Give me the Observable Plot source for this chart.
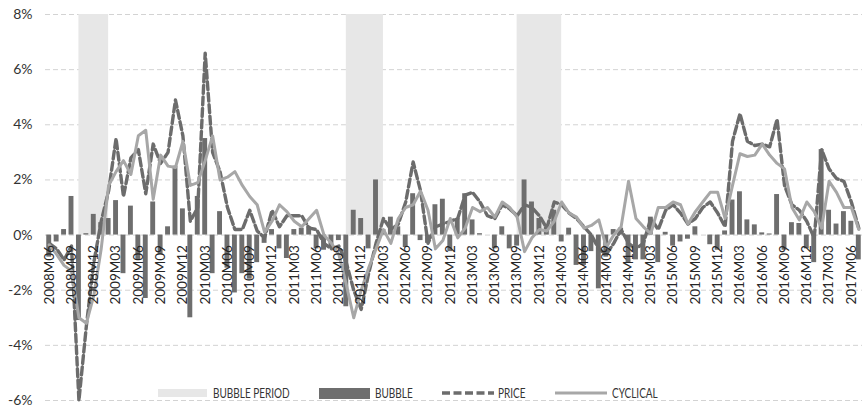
<!DOCTYPE html>
<html>
<head>
<meta charset="utf-8">
<script src="https://cdn.jsdelivr.net/npm/d3@7"></script>
<script src="https://cdn.jsdelivr.net/npm/@observablehq/plot@0.6"></script>
<style>
  html, body { margin: 0; padding: 0; background: #fff; }
  #wrap { position: relative; width: 863px; height: 410px; font-family: Lato, "Open Sans", sans-serif; }
  #legend { position: absolute; left: 0; top: 0; width: 863px; height: 410px; pointer-events: none; }
  .sw { position: absolute; }
  .lt { position: absolute; font-size: 12.5px; color: #333; line-height: 13px; top: 386.5px; white-space: nowrap; transform: scaleX(0.8); transform-origin: 0 50%; }
</style>
</head>
<body>
<div id="wrap"></div>
<script>
const months = [
  "2008M06","2008M07","2008M08","2008M09","2008M10","2008M11","2008M12",
  "2009M01","2009M02","2009M03","2009M04","2009M05","2009M06","2009M07","2009M08","2009M09","2009M10","2009M11","2009M12",
  "2010M01","2010M02","2010M03","2010M04","2010M05","2010M06","2010M07","2010M08","2010M09","2010M10","2010M11","2010M12",
  "2011M01","2011M02","2011M03","2011M04","2011M05","2011M06","2011M07","2011M08","2011M09","2011M10","2011M11","2011M12",
  "2012M01","2012M02","2012M03","2012M04","2012M05","2012M06","2012M07","2012M08","2012M09","2012M10","2012M11","2012M12",
  "2013M01","2013M02","2013M03","2013M04","2013M05","2013M06","2013M07","2013M08","2013M09","2013M10","2013M11","2013M12",
  "2014M01","2014M02","2014M03","2014M04","2014M05","2014M06","2014M07","2014M08","2014M09","2014M10","2014M11","2014M12",
  "2015M01","2015M02","2015M03","2015M04","2015M05","2015M06","2015M07","2015M08","2015M09","2015M10","2015M11","2015M12",
  "2016M01","2016M02","2016M03","2016M04","2016M05","2016M06","2016M07","2016M08","2016M09","2016M10","2016M11","2016M12",
  "2017M01","2017M02","2017M03","2017M04","2017M05","2017M06","2017M07"
];

const bubble = [
  -0.8,-0.25,0.2,1.4,-3.1,0.05,0.75,0.45,0.6,1.25,
  -1.4,1.05,-0.9,-2.3,1.2,-0.7,0.3,2.5,0.95,-3.0,
  1.4,3.5,-1.4,0.85,-1.2,-2.1,-1.4,-1.6,-1.0,-0.3,
  0.2,-0.5,-0.85,0.2,0.25,0.3,-0.5,-0.55,-0.5,-0.2,
  -2.6,0.9,0.6,-0.5,2.0,0.2,0.65,0.3,-0.45,1.5,
  -0.2,-0.3,1.1,1.3,-0.6,0.6,1.5,0.55,0.05,0.0,
  -0.5,0.3,-0.5,-0.4,2.0,1.2,0.6,0.3,0.9,-0.25,
  0.25,-1.1,-1.1,-0.6,-1.95,-0.8,0.2,0.25,-1.0,-0.9,
  -0.9,0.65,-1.0,0.1,-0.4,-0.25,-0.15,0.3,0.0,-0.35,
  -0.55,0.15,1.27,1.57,0.55,0.37,0.08,0.04,1.47,-0.55,
  0.45,0.42,-0.5,-1.0,3.1,0.9,0.4,0.85,0.5,-0.9
];

const price = [
  -0.3,-0.5,-0.9,-0.4,-6.0,-3.3,-1.0,0.5,1.6,3.5,
  1.4,2.8,3.1,1.5,3.3,2.6,3.0,4.9,3.6,0.5,
  1.0,6.6,3.0,2.3,1.0,0.2,0.2,0.9,0.15,-0.1,
  0.9,0.3,0.7,0.7,0.7,0.25,0.2,-0.3,-0.5,-0.4,
  -1.0,-2.0,-2.7,-1.4,-0.3,0.6,0.2,0.4,1.2,2.65,
  1.6,-0.3,0.3,0.4,0.5,0.6,1.45,1.55,1.2,0.7,
  0.6,1.1,0.95,0.7,1.1,1.0,0.7,0.25,1.2,1.1,
  0.8,0.6,0.3,0.0,-0.5,-0.7,-0.3,0.2,-0.3,-0.5,
  -0.3,0.6,0.2,0.9,1.1,0.8,0.4,0.6,1.0,1.2,
  0.8,0.3,3.4,4.4,3.4,3.25,3.3,3.2,4.2,1.8,
  1.1,0.9,0.5,-0.1,3.1,2.4,2.05,1.95,1.2,0.25
];

const cyclical = [
  -0.35,-0.7,-1.1,-1.3,-3.0,-3.2,-2.2,-0.5,1.8,2.3,
  2.7,2.2,3.6,3.8,1.3,2.9,2.5,2.45,3.4,1.8,
  1.9,2.7,3.6,2.0,2.1,2.3,1.8,1.4,1.1,0.1,
  0.5,1.1,0.85,0.5,0.3,0.6,0.9,0.0,-0.3,-0.7,
  -1.8,-3.0,-2.0,-1.2,-0.5,0.2,-0.3,0.6,1.0,1.1,
  1.6,0.9,-0.5,-0.2,0.6,-0.1,0.25,1.0,0.85,1.0,
  0.65,1.2,1.0,0.65,-0.6,-0.1,0.2,0.15,0.5,1.2,
  0.8,0.65,0.25,0.35,0.55,-0.45,0.0,0.3,1.95,0.6,
  0.3,0.05,1.0,1.0,1.2,1.1,0.4,0.85,1.2,1.55,
  1.55,0.6,1.8,2.95,2.85,2.9,3.3,2.9,2.6,2.4,
  1.0,0.55,1.2,0.85,0.25,1.95,1.55,1.0,1.0,0.2
];

// bubble periods (first and last month of each shaded span)
const periodStart = ["2008M10","2011M10","2013M09"];
const periodEnd   = ["2009M02","2012M03","2014M03"];

const tickLabels = [
  "2008M06","2008M09","2008M12","2009M03","2009M06","2009M09","2009M12",
  "2010M03","2010M06","2010M09","2010M12","2011M03","2011M06","2011M09","2011M12",
  "2012M03","2012M06","2012M09","2012M12","2013M03","2013M06","2013M09","2013M12",
  "2014M03","2014M06","2014M09","2014M12","2015M03","2015M06","2015M09","2015M12",
  "2016M03","2016M06","2016M09","2016M12","2017M03","2017M06"
];

const yTicks = [-6,-4,-2,0,2,4,6,8];

const idx = m => months.indexOf(m);
const rows = months.map((m, i) => ({i, month: m, bubble: bubble[i], price: price[i], cyclical: cyclical[i]}));
const periods = periodStart.map((s, k) => ({a: idx(s), b: idx(periodEnd[k])}));
const xTicks = tickLabels.map(t => ({i: idx(t), label: t}));

const chart = Plot.plot({
  width: 863,
  height: 410,
  marginLeft: 45,
  marginRight: 1,
  marginTop: 14,
  marginBottom: 10,
  style: {fontFamily: "Lato, 'Open Sans', sans-serif", background: "#fff"},
  x: {domain: [-0.5, months.length - 0.5], axis: null},
  y: {domain: [-6, 8], axis: null},
  marks: [
    Plot.ruleY(yTicks, {stroke: "#d3d3d3", strokeWidth: 1, strokeDasharray: "5,3"}),
    Plot.rect(periods, {x1: "a", x2: "b", y1: 0, y2: 8, fill: "#e7e7e7"}),
    Plot.rect(rows, {x1: d => d.i - 0.33, x2: d => d.i + 0.33, y1: 0, y2: "bubble", fill: "#6e6e6e"}),
    Plot.line(rows, {x: "i", y: "price", stroke: "#6c6c6c", strokeWidth: 3.4, strokeDasharray: "8,3.5"}),
    Plot.line(rows, {x: "i", y: "cyclical", stroke: "#a7a7a7", strokeWidth: 3}),
    Plot.text(xTicks, {x: "i", y: 0, text: "label", rotate: -90, textAnchor: "end", dy: 10, fontSize: 13.5, fill: "#262626"}),
    Plot.text(yTicks, {x: -0.5, y: d => d, text: d => d + "%", textAnchor: "end", dx: -13, fontSize: 14, fill: "#333"})
  ]
});

const wrap = document.getElementById("wrap");
wrap.appendChild(chart);

const legend = document.createElement("div");
legend.id = "legend";
legend.innerHTML = `
  <div class="sw" style="left:158px;top:389px;width:49px;height:8px;background:#e7e7e7"></div>
  <div class="lt" style="left:213px">BUBBLE PERIOD</div>
  <div class="sw" style="left:319px;top:388px;width:51px;height:11px;background:#6e6e6e"></div>
  <div class="lt" style="left:375px">BUBBLE</div>
  <svg class="sw" style="left:442px;top:388px" width="52" height="10"><line x1="0" y1="5" x2="52" y2="5" stroke="#6c6c6c" stroke-width="3.4" stroke-dasharray="8,3.5"/></svg>
  <div class="lt" style="left:498px">PRICE</div>
  <svg class="sw" style="left:555px;top:388px" width="52" height="10"><line x1="0" y1="5" x2="52" y2="5" stroke="#a7a7a7" stroke-width="3"/></svg>
  <div class="lt" style="left:612px">CYCLICAL</div>
`;
wrap.appendChild(legend);
</script>
</body>
</html>
